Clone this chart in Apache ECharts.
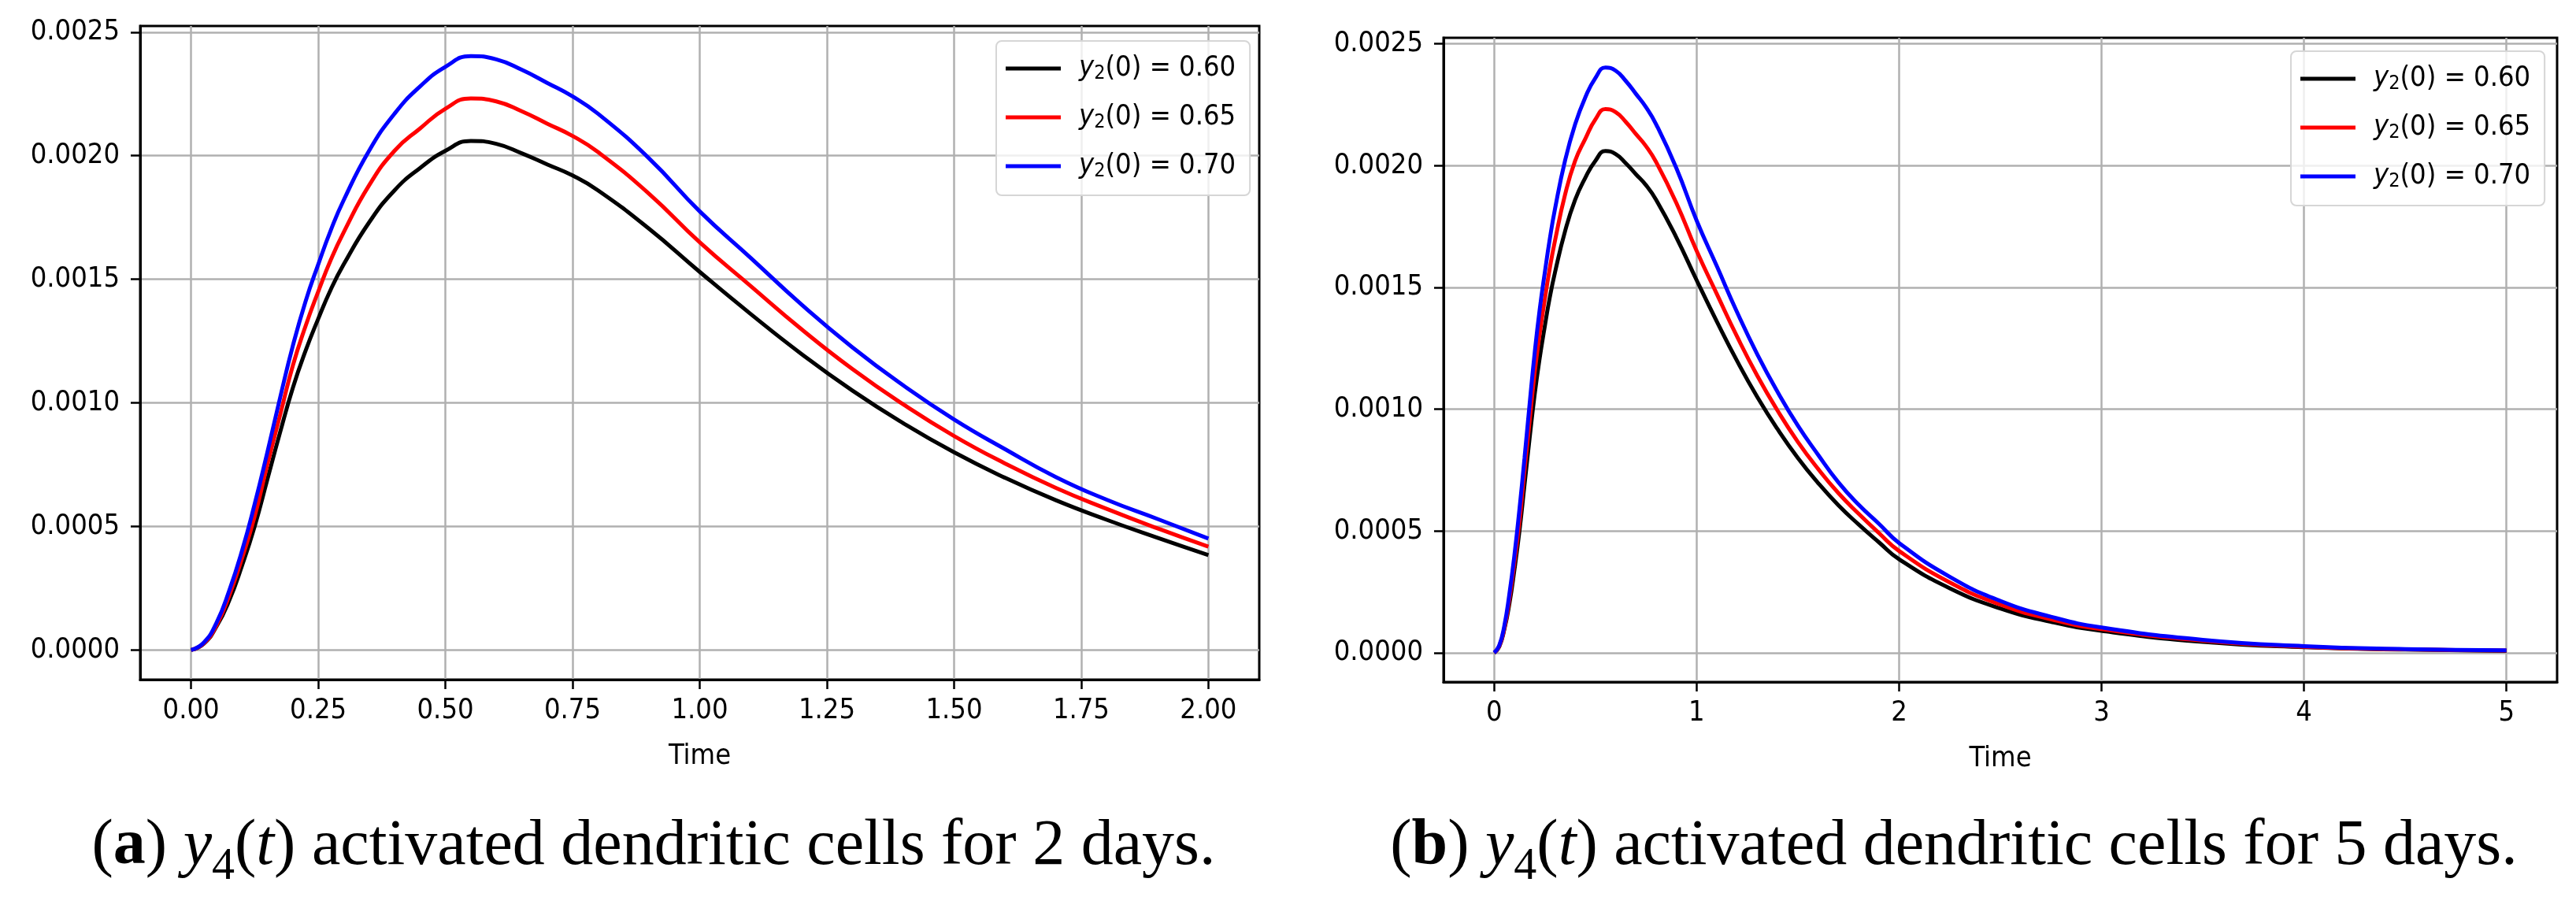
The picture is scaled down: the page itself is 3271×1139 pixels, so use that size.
<!DOCTYPE html>
<html>
<head>
<meta charset="utf-8">
<script src="https://cdn.jsdelivr.net/npm/echarts@6/dist/echarts.min.js"></script>
<style>
    html, body { margin: 0; padding: 0; background: #fff; }
    #chart { width: 3271px; height: 1139px; }
</style>
</head>
<body>
<div id="chart"></div>
<script>
    // time points, 0..2 days
    var timeA = [0, 0.025, 0.05, 0.075, 0.1, 0.125, 0.15, 0.175, 0.2, 0.225, 0.25, 0.275, 0.3, 0.35, 0.4, 0.45,
        0.5, 0.55, 0.6, 0.65, 0.7, 0.75, 0.8, 0.9, 1.0, 1.1, 1.2, 1.3, 1.4, 1.5, 1.6, 1.7, 1.8, 1.9, 2.0];
    // y4(t) for y2(0) = 0.60 / 0.65 / 0.70
    var y60 = [0, 0.000025, 0.000095, 0.0002, 0.00034, 0.0005, 0.00069, 0.00088, 0.00106, 0.00121, 0.00134, 0.00146,
        0.00156, 0.00173, 0.00186, 0.00195, 0.00202, 0.00206, 0.002048, 0.00201, 0.001965, 0.00192, 0.00186, 0.001705,
        0.00153, 0.00136, 0.001198, 0.00105, 0.000918, 0.0008, 0.000697, 0.000606, 0.000527, 0.000454, 0.000384];
    var y65 = [0, 0.000027, 0.0001, 0.00022, 0.00037, 0.00054, 0.00075, 0.00095, 0.00115, 0.00131, 0.00145, 0.00158,
        0.00169, 0.00188, 0.00202, 0.00211, 0.00219, 0.002232, 0.00222, 0.00218, 0.00213, 0.00208, 0.002015, 0.001847,
        0.00165, 0.001473, 0.001298, 0.001137, 0.000994, 0.000866, 0.000755, 0.000656, 0.000571, 0.000492, 0.000418];
    var y70 = [0, 0.00003, 0.00011, 0.00024, 0.0004, 0.00059, 0.0008, 0.00102, 0.00123, 0.00141, 0.00156, 0.0017,
        0.00182, 0.00202, 0.00217, 0.00228, 0.00236, 0.002403, 0.00239, 0.002348, 0.002295, 0.00224, 0.00217, 0.00199,
        0.001775, 0.001587, 0.001398, 0.001225, 0.001071, 0.000933, 0.000813, 0.0007, 0.000608, 0.00053, 0.000451];

    // extra points for panel (b), 2..5 days
    var timeTail = [2.25, 2.5, 2.75, 3.0, 3.5, 4.0, 4.5, 5.0];
    var y60Tail = [0.000265, 0.000182, 0.000127, 0.00009, 0.000045, 0.000023, 0.000013, 0.000008];
    var y65Tail = [0.000289, 0.000198, 0.000138, 0.000097, 0.00005, 0.000025, 0.000014, 0.000009];
    var y70Tail = [0.000312, 0.000213, 0.000148, 0.000104, 0.000053, 0.000027, 0.000015, 0.00001];

    var names = ['0.60', '0.65', '0.70'];
    var colors = ['#000000', '#ff0000', '#0000ff'];

    var xTicksA = [0, 0.25, 0.5, 0.75, 1.0, 1.25, 1.5, 1.75, 2.0];
    var xTicksB = [0, 1, 2, 3, 4, 5];
    var yTicks = [0, 0.0005, 0.001, 0.0015, 0.002, 0.0025];

    var tickFont = "'DejaVu Sans Condensed', 'DejaVu Sans', sans-serif";

    function pairs(xs, ys) {
        var out = [];
        for (var i = 0; i < xs.length; i++) out.push([xs[i], ys[i]]);
        return out;
    }

    function xAxisOf(idx, min, max, ticks, digits) {
        return {
            type: 'value', gridIndex: idx, min: min, max: max,
            name: 'Time', nameLocation: 'middle', nameGap: 80,
            nameTextStyle: { color: '#000', fontSize: 36, fontFamily: tickFont },
            axisLine: { onZero: false, lineStyle: { color: '#000', width: 3 } },
            axisTick: { customValues: ticks, length: 12, lineStyle: { color: '#000', width: 2.5 } },
            axisLabel: {
                customValues: ticks, margin: 22, color: '#000', fontSize: 36, fontFamily: tickFont,
                formatter: function (v) { return v.toFixed(digits); }
            },
            splitLine: { show: true, lineStyle: { color: '#b0b0b0', width: 2.5 } }
        };
    }

    function yAxisOf(idx) {
        return {
            type: 'value', gridIndex: idx, min: -0.00012, max: 0.002525,
            axisLine: { show: true, onZero: false, lineStyle: { color: '#000', width: 3 } },
            axisTick: { show: true, customValues: yTicks, length: 12, lineStyle: { color: '#000', width: 2.5 } },
            axisLabel: {
                customValues: yTicks, margin: 26, color: '#000', fontSize: 36, fontFamily: tickFont,
                formatter: function (v) { return v.toFixed(4); }
            },
            splitLine: { show: true, lineStyle: { color: '#b0b0b0', width: 2.5 } }
        };
    }

    function legendOf(left, top) {
        return {
            data: names, orient: 'vertical', left: left, top: top,
            icon: 'rect', itemWidth: 70, itemHeight: 5, itemGap: 24,
            backgroundColor: 'rgba(255,255,255,0.8)', borderColor: '#d6d6d6', borderWidth: 2, borderRadius: 7,
            padding: [16, 18, 18, 12],
            formatter: function (name) { return '{it|y}{sub|2}{n|(0) = ' + name + '}'; },
            textStyle: {
                color: '#000', padding: [0, 0, 0, 18], lineHeight: 38,
                rich: {
                    it: { fontSize: 36, fontStyle: 'italic', fontFamily: tickFont, lineHeight: 38 },
                    sub: { fontSize: 25, fontFamily: tickFont, verticalAlign: 'bottom', lineHeight: 24 },
                    n: { fontSize: 36, fontFamily: tickFont, lineHeight: 38 }
                }
            }
        };
    }

    var sets = [[y60, y60Tail], [y65, y65Tail], [y70, y70Tail]];
    var series = [];
    sets.forEach(function (s, i) {
        series.push({
            name: names[i], type: 'line', xAxisIndex: 0, yAxisIndex: 0,
            data: pairs(timeA, s[0]), showSymbol: false, smooth: 0.5,
            lineStyle: { color: colors[i], width: 5 }, itemStyle: { color: colors[i] }
        });
        series.push({
            name: names[i], type: 'line', xAxisIndex: 1, yAxisIndex: 1,
            data: pairs(timeA.concat(timeTail), s[0].concat(s[1])), showSymbol: false, smooth: 0.5,
            lineStyle: { color: colors[i], width: 5 }, itemStyle: { color: colors[i] }
        });
    });

    var serif = "'Liberation Serif', 'DejaVu Serif', serif";
    function caption(x, letter, days) {
        return {
            type: 'text', x: x, y: 1116,
            style: {
                text: '{p|(}{b|' + letter + '}{p|) }{it|y}{sub|4}{p|(}{it|t}{p|) activated dendritic cells for ' + days + ' days.}',
                align: 'center', verticalAlign: 'bottom',
                rich: {
                    p: { fontSize: 82, fontFamily: serif, fill: '#000' },
                    b: { fontSize: 82, fontFamily: serif, fontWeight: 'bold', fill: '#000' },
                    it: { fontSize: 82, fontFamily: serif, fontStyle: 'italic', fill: '#000' },
                    sub: { fontSize: 58, fontFamily: serif, fill: '#000', verticalAlign: 'bottom', padding: [0, 0, -14, 0] }
                }
            }
        };
    }

    var chart = echarts.init(document.getElementById('chart'), null, { renderer: 'canvas' });
    chart.setOption({
        backgroundColor: '#fff',
        animation: false,
        grid: [
            { left: 178, top: 33, width: 1421, height: 830, show: true, borderColor: '#000', borderWidth: 3 },
            { left: 1833, top: 48, width: 1414, height: 818, show: true, borderColor: '#000', borderWidth: 3 }
        ],
        xAxis: [xAxisOf(0, -0.1, 2.1, xTicksA, 2), xAxisOf(1, -0.25, 5.25, xTicksB, 0)],
        yAxis: [yAxisOf(0), yAxisOf(1)],
        legend: [legendOf(1265, 52), legendOf(2909, 65)],
        series: series,
        graphic: [caption(830, 'a', 2), caption(2481, 'b', 5)]
    });
</script>
</body>
</html>
